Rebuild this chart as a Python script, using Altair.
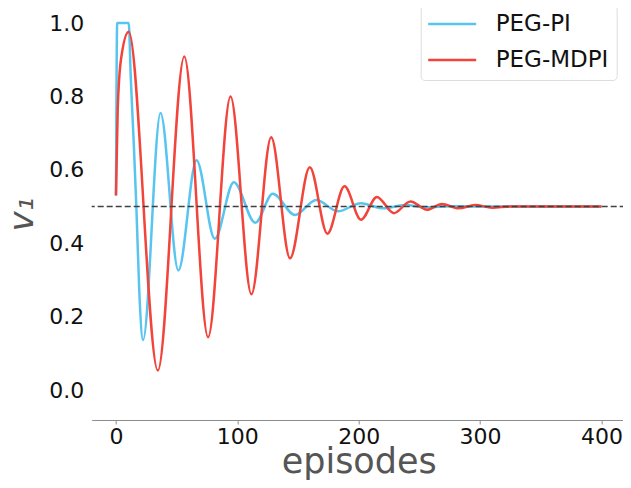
import altair as alt
import pandas as pd

# ---- data ----
series_names = ["PEG-PI", "PEG-MDPI"]
series_colors = ["#57C5F0", "#F2443A"]

pi_episodes = [0, 1, 10.5, 12.2, 14.7, 16.9, 19.2, 22.3, 36.7, 51.4, 66.4, 81.4,
               97.1, 114.8, 129.2, 147.5, 165, 182.9, 201.9, 220, 238, 256, 275,
               300, 340, 400]
pi_values = [0.53, 1.0, 1.0, 0.85, 0.67, 0.49, 0.27, 0.136, 0.755, 0.326, 0.626,
             0.412, 0.566, 0.456, 0.535, 0.477, 0.518, 0.487, 0.509, 0.495, 0.504,
             0.498, 0.501, 0.5, 0.5, 0.5]

mdpi_episodes = [0, 1.4, 4.1, 10.5, 34.5, 56.3, 75.9, 94.4, 111.6, 127.9, 143.4,
                 159.7, 174.2, 188.3, 201.9, 215, 229, 242.7, 256.3, 268.6, 282.2,
                 296, 310, 325, 350, 400]
mdpi_values = [0.53, 0.76, 0.9, 0.976, 0.053, 0.909, 0.144, 0.800, 0.261, 0.689,
               0.359, 0.607, 0.426, 0.555, 0.464, 0.526, 0.482, 0.514, 0.491, 0.507,
               0.495, 0.504, 0.497, 0.5, 0.5, 0.5]

target_value = [0.5]
x_ticks = [0, 100, 200, 300, 400]
y_ticks = [0.0, 0.2, 0.4, 0.6, 0.8, 1.0]

FONT = "DejaVu Sans"

pi_df = pd.DataFrame({"episodes": pi_episodes, "v1": pi_values, "series": series_names[0]})
mdpi_df = pd.DataFrame({"episodes": mdpi_episodes, "v1": mdpi_values, "series": series_names[1]})
ref_df = pd.DataFrame({"v1": target_value})

x_enc = alt.X(
    "episodes:Q",
    scale=alt.Scale(domain=[-20, 420], nice=False, zero=False),
    axis=alt.Axis(
        values=x_ticks, title="episodes", grid=False,
        domainColor="#8c8c8c", tickColor="#8c8c8c", tickSize=4, tickWidth=1,
        labelFontSize=22, labelFont=FONT, labelColor="#111111", labelPadding=3,
        titleFontSize=35, titleFont=FONT, titleColor="#555555",
        titleFontWeight="normal", titleY=53, titleBaseline="alphabetic",
    ),
)
y_enc = alt.Y(
    "v1:Q",
    scale=alt.Scale(domain=[-0.0817, 1.041], nice=False, zero=False),
    axis=alt.Axis(
        values=y_ticks, format=".1f", title="v₁", grid=False, domain=False,
        ticks=False, labelFontSize=22, labelFont=FONT, labelColor="#111111",
        labelPadding=8, titleFontSize=34, titleFont=FONT, titleColor="#555555",
        titleFontWeight="normal", titleFontStyle="italic", titlePadding=9,
    ),
)
color_enc = alt.Color(
    "series:N",
    scale=alt.Scale(domain=series_names, range=series_colors),
    legend=alt.Legend(
        title=None, orient="none", legendX=329, legendY=-3,
        symbolType="M-2.667,0L2.667,0", symbolSize=324, symbolStrokeWidth=2.5,
        symbolOffset=12.5,
        labelFontSize=23, labelFont=FONT, labelColor="#111111", labelOffset=32,
        padding=7.5, rowPadding=12, strokeColor="#dddddd", fillColor="white",
        cornerRadius=4,
    ),
)

line_pi = alt.Chart(pi_df).mark_line(interpolate="monotone", strokeWidth=2.5, clip=True).encode(
    x=x_enc, y=y_enc, color=color_enc
)
line_mdpi = alt.Chart(mdpi_df).mark_line(interpolate="monotone", strokeWidth=2.5, clip=True).encode(
    x="episodes:Q", y="v1:Q", color="series:N"
)
ref_rule = alt.Chart(ref_df).mark_rule(strokeDash=[6, 3], color="#404040", strokeWidth=1.5).encode(
    y="v1:Q"
)

chart = alt.layer(line_pi, line_mdpi, ref_rule).properties(
    width=534, height=412,
    autosize=alt.AutoSizeParams(type="none"),
    padding={"left": 83.7, "top": 0, "right": -3, "bottom": 60},
).configure_view(stroke=None)

chart.save("out.html", embed_options={"renderer": "svg", "actions": False})
